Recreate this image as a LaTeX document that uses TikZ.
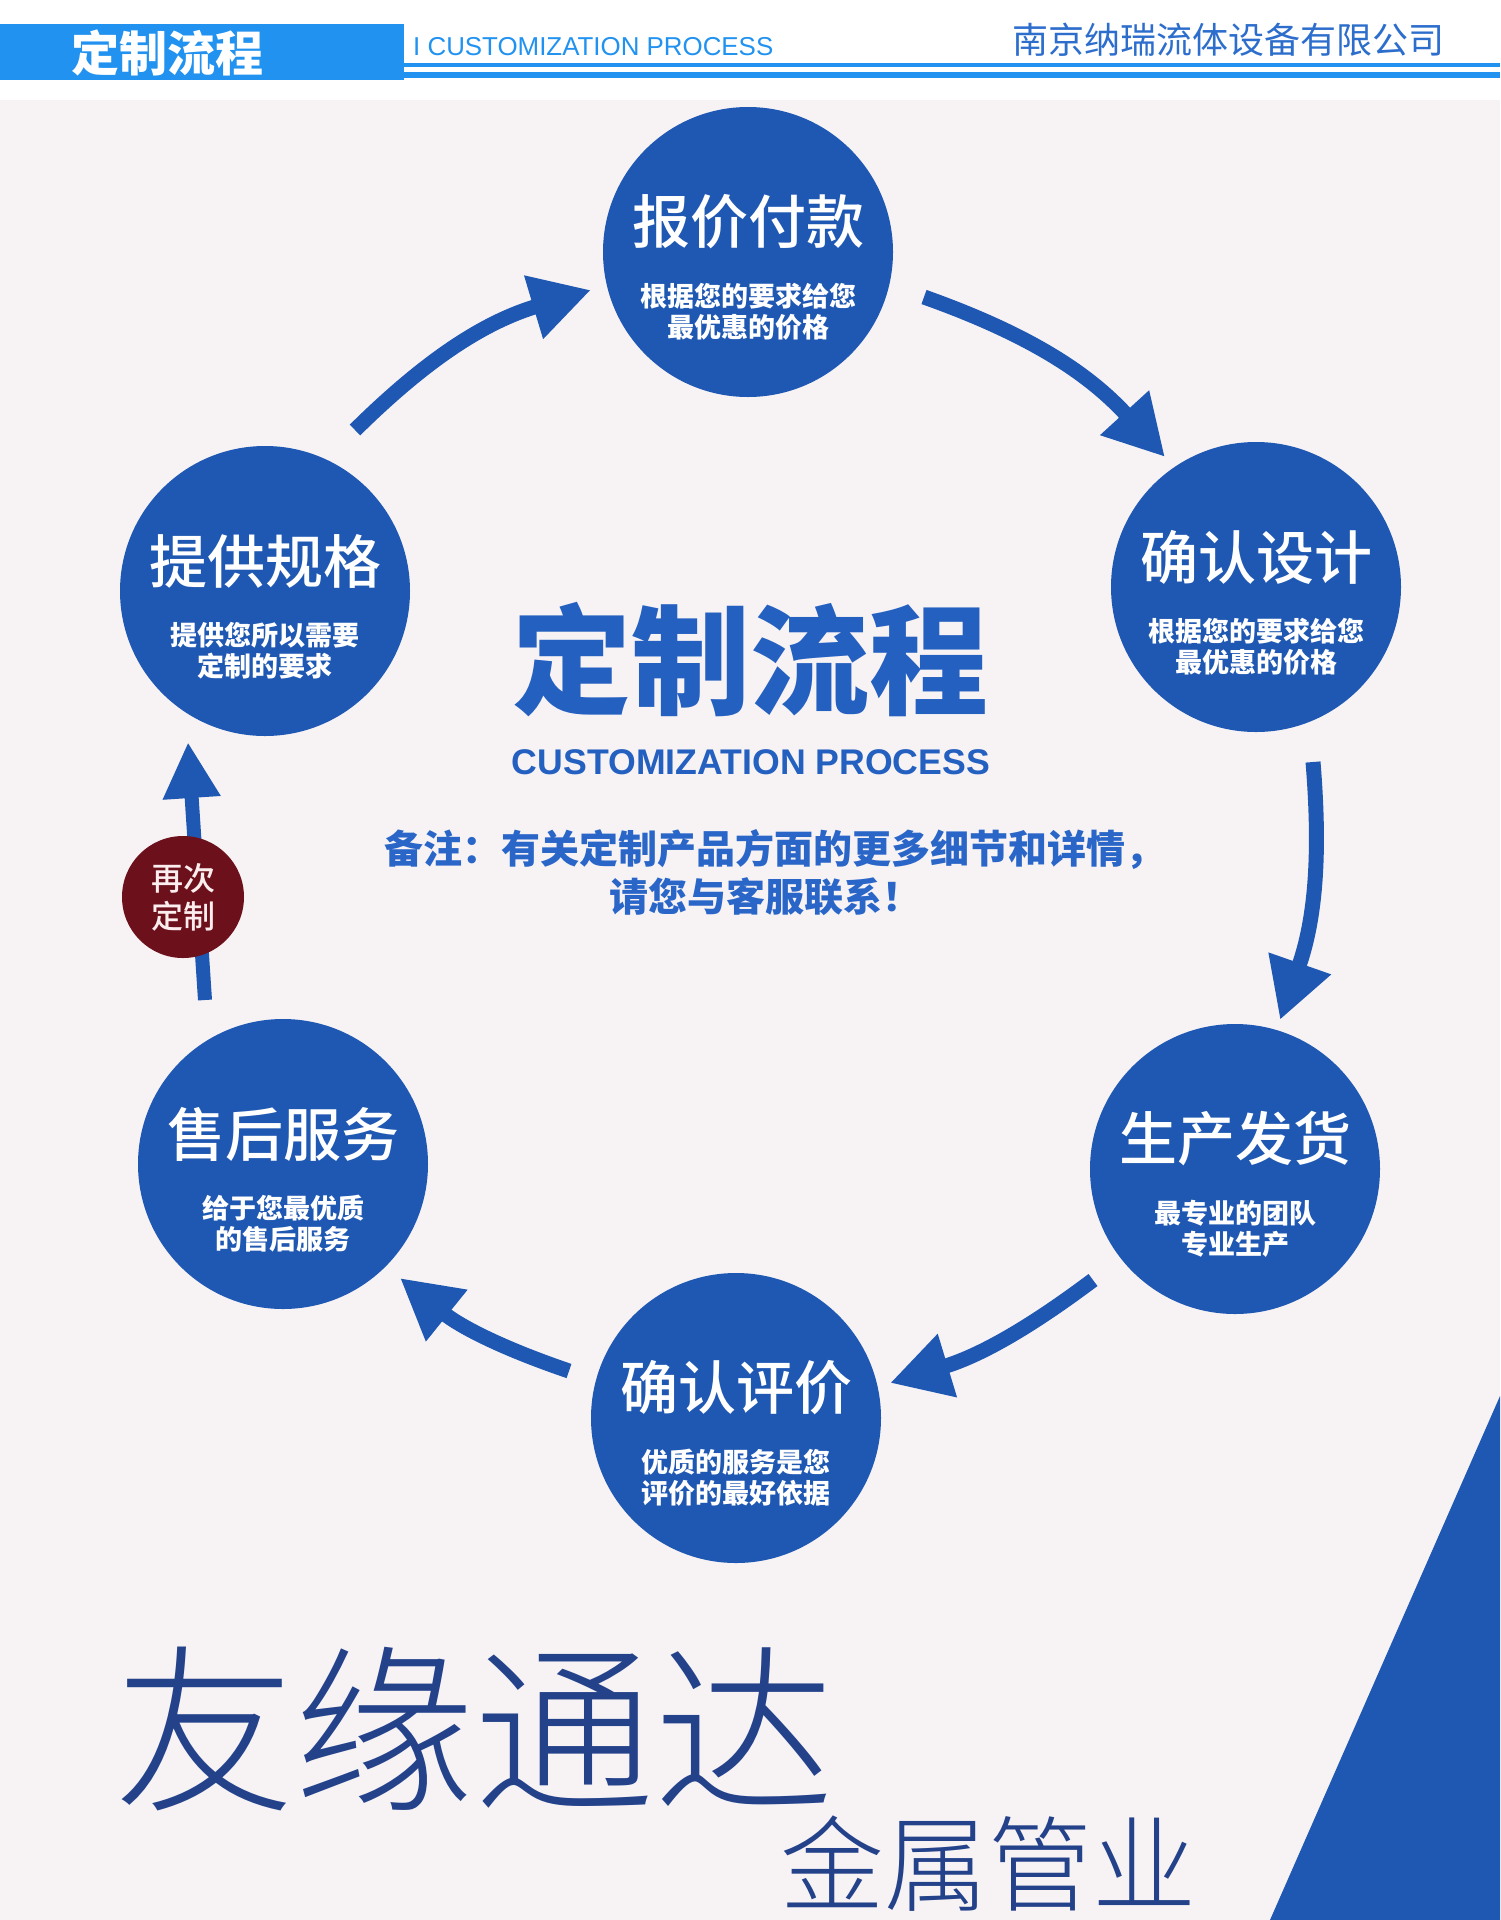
\documentclass[tikz,border=0pt]{standalone}
\usepackage{fontspec}
\setmainfont{Liberation Sans}
\newfontfamily\cjk{Noto Sans CJK SC}
\IfFontExistsTF{Noto Sans CJK SC Light}{\newfontfamily\cjkthin{Noto Sans CJK SC Light}}{\newfontfamily\cjkthin{Noto Sans CJK SC}}
\IfFontExistsTF{Noto Sans CJK SC Medium}{\newfontfamily\cjkmed{Noto Sans CJK SC Medium}}{\newfontfamily\cjkmed{Noto Sans CJK SC}}
\usetikzlibrary{arrows.meta}
\definecolor{bg}{RGB}{247,243,245}
\definecolor{cblue}{RGB}{31,88,178}
\definecolor{hblue}{RGB}{33,146,240}
\definecolor{tblue}{RGB}{36,96,192}
\definecolor{nblue}{RGB}{42,102,200}
\definecolor{coblue}{RGB}{45,110,205}
\definecolor{dred}{RGB}{108,16,28}
\definecolor{dkblue}{RGB}{36,66,138}
\begin{document}
\begin{tikzpicture}[x=1pt,y=1pt,
  stepcirc/.style={circle, fill=cblue, minimum size=290pt, inner sep=0pt},
  ttl/.style={font=\cjkmed\fontsize{58}{60}\selectfont, text=white, inner sep=0pt},
  sub/.style={font=\cjk\bfseries\fontsize{27}{31}\selectfont, text=white, align=center, inner sep=0pt},
  flow/.style={draw=cblue, line width=15pt, -{Triangle[length=60pt,width=62pt]}},
]
\useasboundingbox (0,0) rectangle (1500,-1920);
% background
\fill[bg] (0,0) rectangle (1500,-1920);
\fill[white] (0,0) rectangle (1500,-100);
% header
\fill[hblue] (0,-24) rectangle (404,-80);
\fill[hblue] (404,-63) rectangle (1500,-67);
\fill[hblue] (404,-72) rectangle (1500,-78);
\node[font=\cjk\bfseries\fontsize{48}{50}\selectfont, text=white, inner sep=0pt] (htitle) at (167,-53) {定制流程};
\node[anchor=base west, inner sep=0pt, text=hblue] (hsub) at (413,-55) {\resizebox{360pt}{!}{I CUSTOMIZATION PROCESS}};
\node[font=\cjk\fontsize{36}{38}\selectfont, text=coblue, inner sep=0pt] (company) at (1228,-40) {南京纳瑞流体设备有限公司};

% bottom-right blue wedge
\fill[cblue] (1500,-1396) -- (1500,-1920) -- (1270,-1920) -- cycle;

% arrows
\coordinate (fa1) at (355,-430);  \coordinate (fa2) at (591,-290);
\coordinate (ab1) at (924,-297);  \coordinate (ab2) at (1165,-457);
\coordinate (bc1) at (1313,-762); \coordinate (bc2) at (1280,-1020);
\coordinate (cd1) at (1093,-1280);\coordinate (cd2) at (890,-1383);
\coordinate (de1) at (569,-1371); \coordinate (de2) at (400,-1278);
\coordinate (ef1) at (205,-1000); \coordinate (ef2) at (188,-742);
\draw[flow] (fa1) to[bend left=14] (fa2);
\draw[flow] (ab1) to[bend left=14] (ab2);
\draw[flow] (bc1) to[bend left=12] (bc2);
\draw[flow] (cd1) to[bend left=10] (cd2);
\draw[flow] (de1) to[bend left=10] (de2);
\draw[draw=cblue, line width=14pt, -{Triangle[length=56pt,width=54pt]}] (ef1) -- (ef2);

% circles
\node[stepcirc] (a) at (748,-252) {};
\node[stepcirc] (b) at (1256,-587) {};
\node[stepcirc] (c) at (1235,-1169) {};
\node[stepcirc] (d) at (736,-1418) {};
\node[stepcirc] (e) at (283,-1164) {};
\node[stepcirc] (f) at (265,-591) {};

\node[ttl] (at) at ([yshift=30pt]a.center) {报价付款};
\node[sub] (as) at ([yshift=-60pt]a.center) {根据您的要求给您\\最优惠的价格};
\node[ttl] (bt) at ([yshift=30pt]b.center) {确认设计};
\node[sub] (bs) at ([yshift=-60pt]b.center) {根据您的要求给您\\最优惠的价格};
\node[ttl] (ct) at ([yshift=30pt]c.center) {生产发货};
\node[sub] (cs) at ([yshift=-60pt]c.center) {最专业的团队\\专业生产};
\node[ttl] (dt) at ([yshift=30pt]d.center) {确认评价};
\node[sub] (ds) at ([yshift=-60pt]d.center) {优质的服务是您\\评价的最好依据};
\node[ttl] (et) at ([yshift=30pt]e.center) {售后服务};
\node[sub] (es) at ([yshift=-60pt]e.center) {给于您最优质\\的售后服务};
\node[ttl] (ft) at ([yshift=30pt]f.center) {提供规格};
\node[sub] (fs) at ([yshift=-60pt]f.center) {提供您所以需要\\定制的要求};

% re-order circle
\node[circle, fill=dred, minimum size=122pt, inner sep=0pt, text={rgb,255:red,252;green,238;blue,238},
      font=\cjkmed\fontsize{32}{38}\selectfont, align=center] (r) at (183,-897) {再次\\定制};

% centre texts
\node[font=\cjk\bfseries\fontsize{119}{120}\selectfont, text=tblue, inner sep=0pt] (main) at (750,-660) {定制流程};
\node[inner sep=0pt, text=tblue] (mainen) at (751,-762) {\resizebox{478pt}{!}{\bfseries CUSTOMIZATION PROCESS}};
\node[font=\cjk\bfseries\fontsize{39}{41}\selectfont, text=nblue, inner sep=0pt] (note1) at (774,-850) {备注：有关定制产品方面的更多细节和详情，};
\node[font=\cjk\bfseries\fontsize{39}{41}\selectfont, text=nblue, inner sep=0pt] (note2) at (765,-897) {请您与客服联系！};

% brand
\node[font=\cjkthin\fontsize{180}{180}\selectfont, text=dkblue, inner sep=0pt] (brand) at (474,-1729) {友缘通达};
\node[font=\cjkthin\fontsize{104}{104}\selectfont, text=dkblue, inner sep=0pt] (brand2) at (988,-1864) {金属管业};
\end{tikzpicture}
\end{document}
